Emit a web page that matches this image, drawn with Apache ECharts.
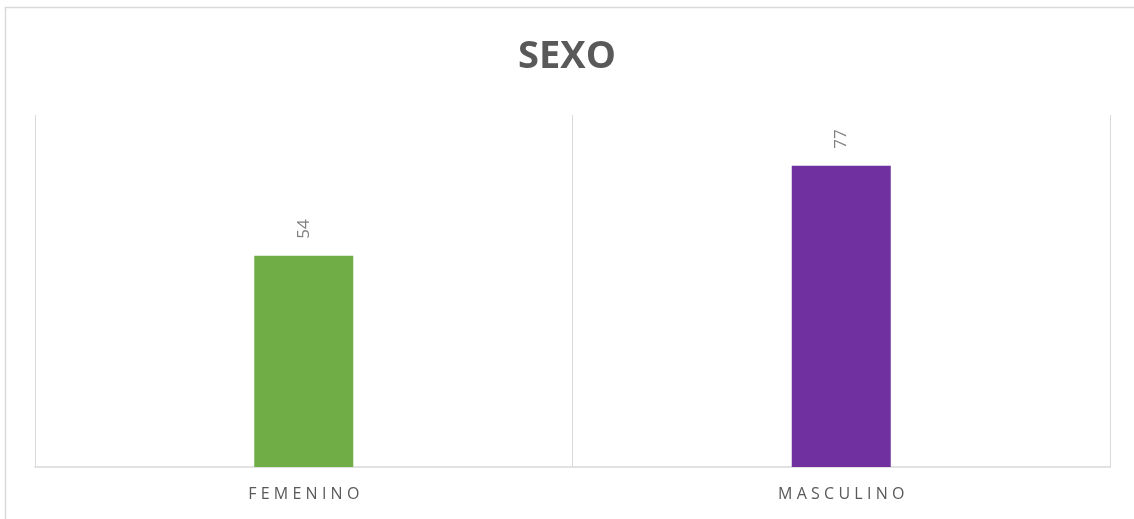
<!DOCTYPE html>
<html>
<head>
<meta charset="utf-8">
<script src="https://cdn.jsdelivr.net/npm/echarts@6/dist/echarts.min.js"></script>
<style>
  html, body { margin: 0; padding: 0; background: #fff; }
  #chart { width: 1134px; height: 519px; }
</style>
</head>
<body>
<div id="chart"></div>
<script>
const categories = ['FEMENINO', 'MASCULINO']
const values = [54, 77]
const barColors = ['#70AD47', '#7030A0']

// spread letters like the original axis labels
const spaced = s => s.split('').join('\u2009\u200a')

const chart = echarts.init(document.getElementById('chart'))
const option = {
  animation: false,
  backgroundColor: '#fff',
  graphic: [{
    type: 'rect',
    shape: { x: 5.5, y: 7.5, width: 1140, height: 530 },
    style: { fill: 'none', stroke: '#d9d9d9', lineWidth: 1.5 },
    silent: true
  }],
  title: {
    text: 'SEXO',
    left: 'center',
    top: 33,
    textStyle: {
      fontFamily: 'Open Sans',
      fontWeight: 'bold',
      fontSize: 38,
      color: '#595959'
    }
  },
  grid: {
    left: 35,
    right: 24,
    top: 115,
    bottom: 52
  },
  xAxis: {
    type: 'category',
    data: categories,
    axisTick: { show: false },
    axisLine: { lineStyle: { color: '#d9d9d9', width: 1.5 } },
    splitLine: { show: true, lineStyle: { color: '#d9d9d9', width: 1 } },
    axisLabel: {
      formatter: spaced,
      fontFamily: 'Open Sans',
      fontSize: 16,
      color: '#595959',
      margin: 19
    }
  },
  yAxis: {
    type: 'value',
    min: 0,
    max: 90,
    show: false,
    splitLine: { show: false }
  },
  series: [{
    type: 'bar',
    barWidth: 99,
    data: values.map((v, i) => ({ value: v, itemStyle: { color: barColors[i] } })),
    label: {
      show: true,
      position: 'top',
      rotate: 90,
      align: 'left',
      verticalAlign: 'middle',
      distance: 17,
      fontFamily: 'Open Sans',
      fontSize: 17,
      color: '#7f7f7f'
    }
  }]
}
chart.setOption(option)
</script>
</body>
</html>
